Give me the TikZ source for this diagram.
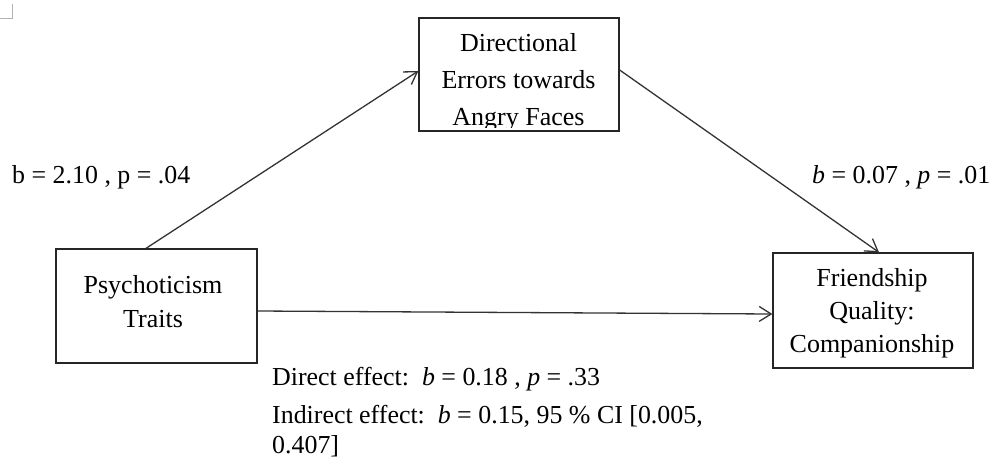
\documentclass[tikz,border=0pt]{standalone}
\usepackage{fontspec}
\setmainfont{Liberation Serif}
\usetikzlibrary{arrows.meta}
\begin{document}
\begin{tikzpicture}[x=1pt,y=-1pt,
  box/.style={draw=black!85, line width=1.3pt, inner sep=0pt},
  boxtext/.style={anchor=base, inner sep=0pt, font=\fontsize{26}{30}\selectfont},
  lbl/.style={anchor=base west, inner sep=0pt, font=\fontsize{25.9}{30}\selectfont},
  conn/.style={draw=black!80, line width=1.3pt, -{Straight Barb[length=12pt,width=15pt,line width=1.3pt]}}]
\useasboundingbox (0,0) rectangle (991,464);
% page corner mark
\draw[black!30, line width=1pt] (0,18) coordinate (c1) -- (12,18) coordinate (c2) -- (12,4) coordinate (c3);
% boxes
\node[box, minimum width=200pt, minimum height=113pt] (tb) at (519,74.5) {};
\node[box, minimum width=201pt, minimum height=114pt] (lb) at (156.5,306) {};
\node[box, minimum width=200pt, minimum height=115pt] (rb) at (873,310.5) {};
% top box text (clipped by box)
\begin{scope}
\clip (420,19) rectangle (618,127);
\node[boxtext] (t1) at (518.5,51) {Directional};
\node[boxtext] (t2) at (518.5,88) {Errors towards};
\node[boxtext] (t3) at (518.5,125) {Angry Faces};
\end{scope}
\node[boxtext] (l1) at (153,293) {Psychoticism};
\node[boxtext] (l2) at (153,327) {Traits};
\node[boxtext] (r1) at (872,286) {Friendship};
\node[boxtext] (r2) at (872,319) {Quality:};
\node[boxtext] (r3) at (872,352) {Companionship};
% connectors
\draw[conn] ([xshift=-10.5pt]lb.north) -- ([yshift=3.5pt]tb.west);
\draw[conn] ([yshift=4.5pt]tb.east) -- ([xshift=6pt]rb.north);
\draw[conn] ([yshift=-5pt]lb.east) -- ([yshift=-3.5pt]rb.west);
% labels
\node[lbl] (a) at (12,183) {b = 2.10 , p = .04};
\node[lbl] (bb) at (812,183) {\textit{b} = 0.07 , \textit{p} = .01};
\node[lbl] (d1) at (272,385) {Direct effect:\ \ \textit{b} = 0.18 , \textit{p} = .33};
\node[lbl] (d2) at (272,423) {Indirect effect:\ \ \textit{b} = 0.15, 95 \% CI [0.005,};
\node[lbl] (d3) at (272,453) {0.407]};
\end{tikzpicture}
\end{document}
